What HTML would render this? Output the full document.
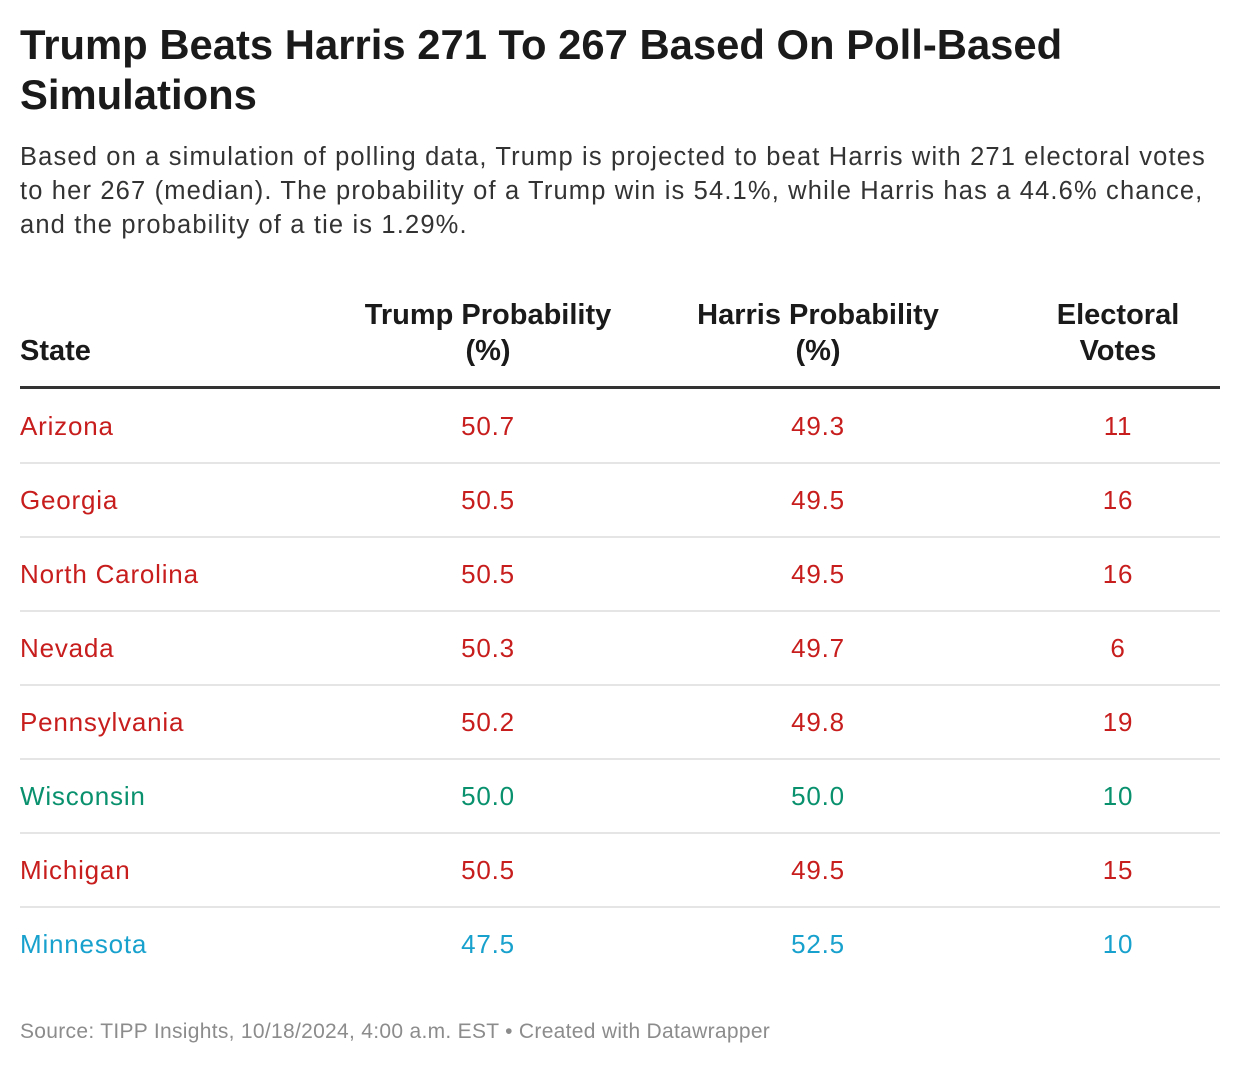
<!DOCTYPE html>
<html><head><meta charset="utf-8"><style>
body{margin:0;width:1240px;height:1066px;background:#fff;font-family:"Liberation Sans",Arial,sans-serif;color:#1a1a1a;position:relative;overflow:hidden}
.a{position:absolute;white-space:nowrap}
h1{position:absolute;left:20px;top:20px;margin:0;font-size:41.8px;line-height:50px;font-weight:bold;width:1200px}
.sub{left:20px;top:140px;font-size:25.5px;line-height:34px;color:#333;letter-spacing:1.15px}
.hd{font-size:29px;font-weight:bold;line-height:36px;text-align:center;transform:translateX(-50%)}
.cell{font-size:26px;line-height:30px;letter-spacing:0.8px}
.c{text-align:center;transform:translateX(-50%)}
.sep{position:absolute;left:20px;width:1200px;height:2px;background:#e5e5e5}
</style></head><body>
<h1>Trump Beats Harris 271 To 267 Based On Poll-Based<br>Simulations</h1>
<div class="a sub">Based on a simulation of polling data, Trump is projected to beat Harris with 271 electoral votes<br>to her 267 (median). The probability of a Trump win is 54.1%, while Harris has a 44.6% chance,<br>and the probability of a tie is 1.29%.</div>
<div class="a hd" style="top:333px;transform:none;text-align:left;left:20px">State</div>
<div class="a hd" style="left:488px;top:297px">Trump Probability<br>(%)</div>
<div class="a hd" style="left:818px;top:297px">Harris Probability<br>(%)</div>
<div class="a hd" style="left:1118px;top:297px">Electoral<br>Votes</div>
<div class="a" style="left:20px;top:386px;width:1200px;height:3px;background:#333"></div>
<div id="rows"></div>
<div class="a" style="left:20px;top:1020px;font-size:21px;letter-spacing:0.3px;color:#8c8c8c">Source: TIPP Insights, 10/18/2024, 4:00 a.m. EST • Created with Datawrapper</div>
<script>
const states=["Arizona","Georgia","North Carolina","Nevada","Pennsylvania","Wisconsin","Michigan","Minnesota"];
const trumpProb=["50.7","50.5","50.5","50.3","50.2","50.0","50.5","47.5"];
const harrisProb=["49.3","49.5","49.5","49.7","49.8","50.0","49.5","52.5"];
const electoralVotes=["11","16","16","6","19","10","15","10"];
const colorMap={red:"#c71e1d",green:"#09916e",blue:"#18a1cd"};
const leans=["red","red","red","red","red","green","red","blue"];
const root=document.getElementById('rows');
states.forEach((s,i)=>{
  const y=411+i*74;
  const col=colorMap[leans[i]];
  const cells=[[s,20,false],[trumpProb[i],488,true],[harrisProb[i],818,true],[electoralVotes[i],1118,true]];
  cells.forEach((c,j)=>{
    const d=document.createElement('div');
    d.className='a cell'+(c[2]?' c':'');
    d.style.left=c[1]+'px';d.style.top=y+'px';d.style.color=col;
    d.textContent=c[0];
    
    
    root.appendChild(d);
  });
  if(i<states.length-1){
    const sp=document.createElement('div');
    sp.className='sep';sp.style.top=(y+51)+'px';
    
    
    root.appendChild(sp);
  }
});
</script>
</body></html>
